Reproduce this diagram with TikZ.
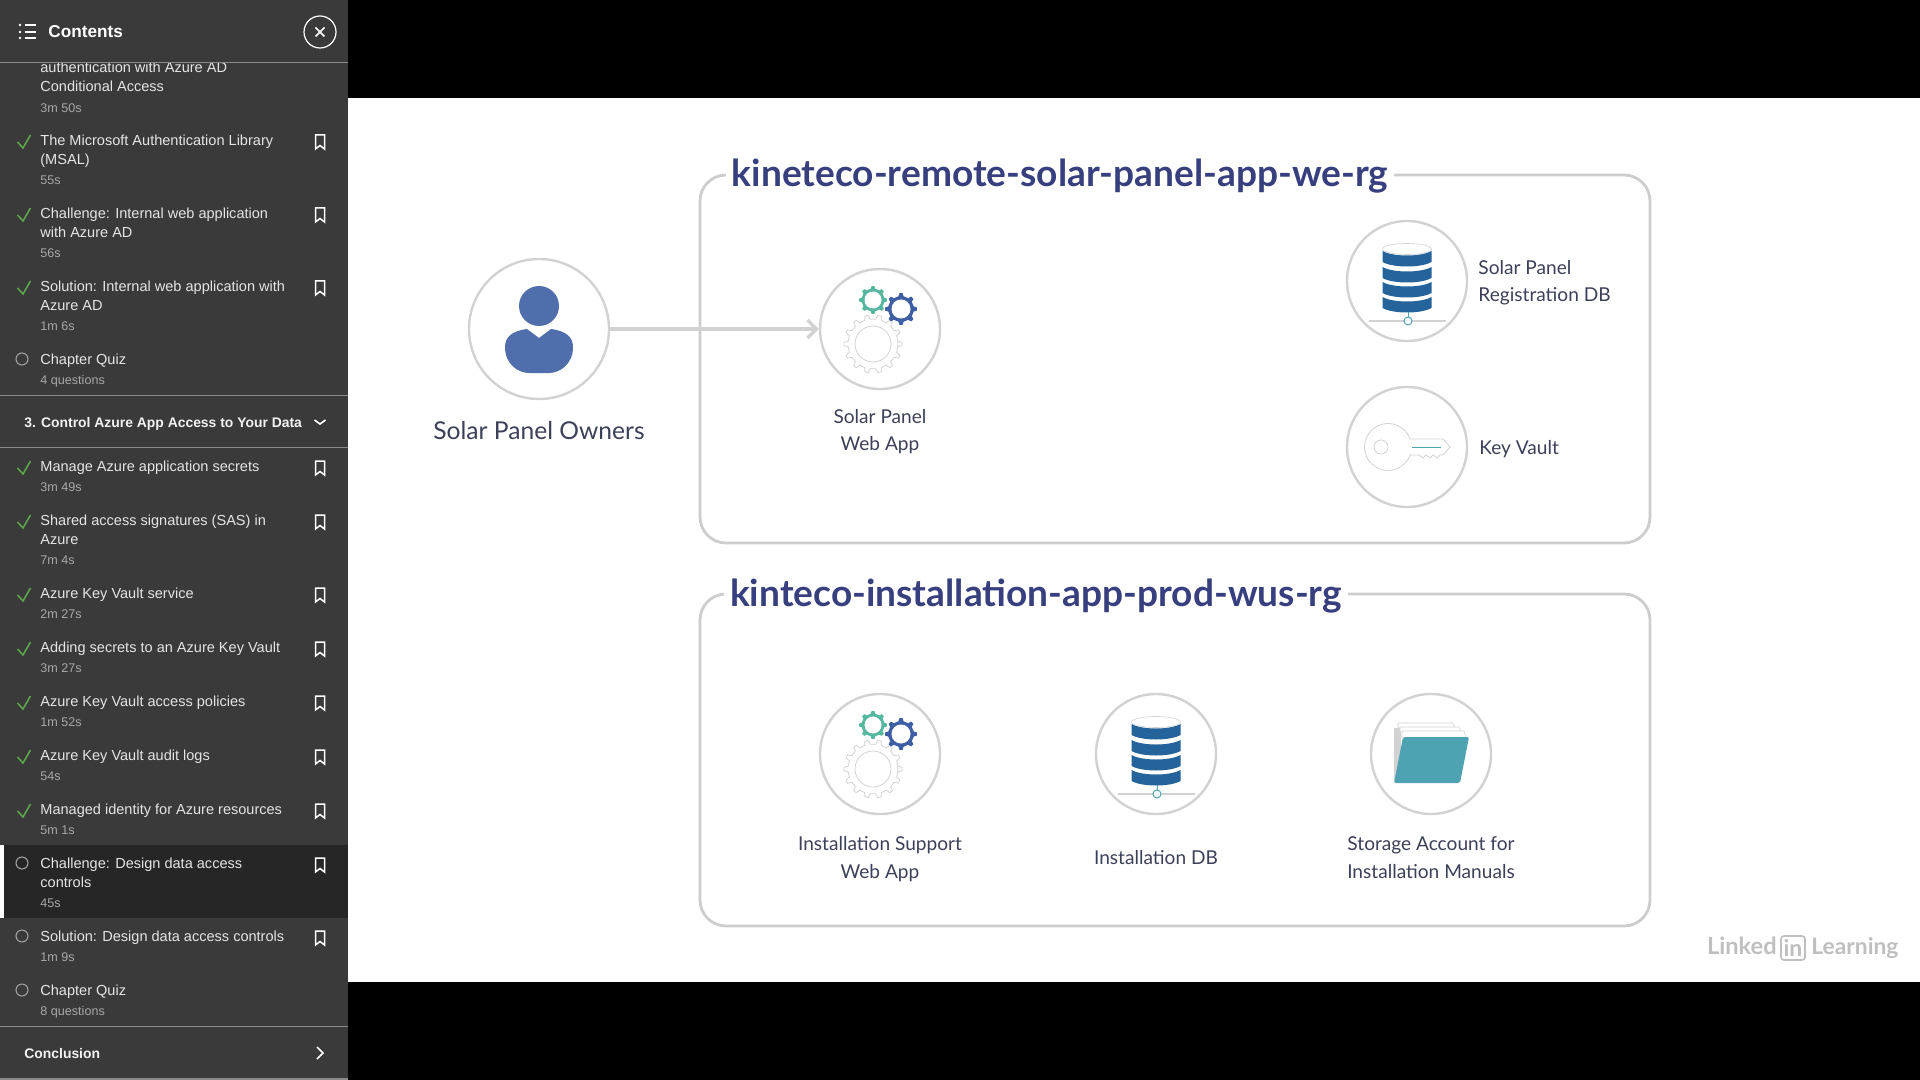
\documentclass[tikz,border=0pt]{standalone}
\usepackage{fontspec}
\setmainfont{Lato}
\newfontfamily\uifont{Liberation Sans}
\usetikzlibrary{arrows.meta}
\definecolor{sidebar}{HTML}{3A3A3A}
\definecolor{sideactive}{HTML}{262626}
\definecolor{sideline}{HTML}{8A8A8A}
\definecolor{ringgray}{HTML}{D2D2D2}
\definecolor{boxgray}{HTML}{CDCDCD}
\definecolor{titleblue}{HTML}{373F7E}
\definecolor{labelink}{HTML}{3C4058}
\definecolor{personblue}{HTML}{4F6EAB}
\definecolor{gearteal}{HTML}{55B79E}
\definecolor{gearblue}{HTML}{3F5FA5}
\definecolor{dbblue}{HTML}{24649B}
\definecolor{folderteal}{HTML}{4EA3B3}
\definecolor{checkgreen}{HTML}{5DAA4C}
\newcommand\uifs[1]{\uifont\fontsize{#1}{#1}\selectfont}
\newcommand\lafs[1]{\fontsize{#1}{#1}\selectfont}
\tikzset{
  tit/.style={anchor=base west,inner sep=0pt,text=white!90!black,font=\uifs{7.27}},
  dura/.style={anchor=base west,inner sep=0pt,text=white!66!black,font=\uifs{6.3}},
  sect/.style={anchor=base west,inner sep=0pt,text=white!95!black,font=\uifs{6.95}\bfseries},
  ring/.style={circle,draw=ringgray,line width=1.2pt,fill=white,minimum size=60pt,inner sep=0pt},
  lab/.style={text=labelink,inner sep=0pt,font=\lafs{9.55}},
  grp/.style={draw=boxgray,line width=1.4pt,rounded corners=13pt},
  grptitle/.style={fill=white,inner xsep=3pt,inner ysep=1pt,text=titleblue,font=\lafs{18.55}\bfseries},
  siderule/.style={draw=sideline,line width=0.5pt},
  chk/.style={draw=checkgreen,line width=0.75pt},
  bmk/.style={draw=white,line width=0.75pt,line join=miter},
  radio/.style={circle,draw=white!65!black,line width=0.5pt,minimum size=6pt,inner sep=0pt},
  wire/.style={draw=ringgray,line width=1.7pt,-{Straight Barb[length=4.5pt,width=9pt,line width=1.7pt]}},
}
\newcommand\tline[3]{\node[tit] (#1) at (40,#2+5.3) {#3};}
\newcommand\dline[3]{\node[dura] (#1) at (40,#2+5.2) {#3};}
\newcommand\chkmark[1]{\draw[chk] (17.5,#1+2) -- (23,#1+8) -- (30.5,#1-5);}
\newcommand\bkmark[1]{\draw[bmk] (315.5,#1-5) -- (324.5,#1-5) -- (324.5,#1+9) -- (320,#1+5.5) -- (315.5,#1+9) -- cycle;}
\newcommand\radiomark[2]{\node[radio] (#1) at (22,#2) {};}
% cx cy R r n style
\newcommand\gearshape[6]{%
  \pgfmathsetmacro\gstep{360/#5}
  \begin{scope}[shift={(#1,#2)}]
  \path[#6] ({-0.25*\gstep}:#4) foreach \i in {0,...,#5} {
     -- ({(\i-0.25)*\gstep}:#4) -- ({(\i-0.13)*\gstep}:#3) -- ({(\i+0.13)*\gstep}:#3) -- ({(\i+0.25)*\gstep}:#4) } -- cycle;
  \end{scope}}
\newcommand\gearsicon[2]{%
  \begin{scope}[shift={(#1,#2)}]
  \gearshape{-7}{15}{29}{25}{14}{draw=ringgray,line width=0.4pt,fill=white}
  \draw[ringgray,line width=0.4pt] (-7,15) circle[radius=18];
  \gearshape{-7}{-29}{14}{11.5}{8}{fill=gearteal}
  \fill[white] (-7,-29) circle[radius=8.5];
  \gearshape{21}{-20}{16}{13}{8}{fill=gearblue}
  \fill[white] (21,-20) circle[radius=9.5];
  \end{scope}}
\newcommand\dbband[1]{\fill[dbblue] (-24.5,#1) .. controls (-14,#1+6) and (14,#1+6) .. (24.5,#1) -- (24.5,#1+11) .. controls (14,#1+17) and (-14,#1+17) .. (-24.5,#1+11) -- cycle;}
\newcommand\dbicon[2]{%
  \begin{scope}[shift={(#1,#2)}]
  \dbband{-30}\dbband{-14}\dbband{1}\dbband{16}
  \draw[draw=ringgray,line width=0.3pt,fill=white] (0,-32) ellipse[x radius=24.5,y radius=5.5];
  \draw[ringgray,line width=1.4pt] (-38,40) -- (39,40);
  \draw[folderteal,line width=0.5pt] (1,31) -- (1,36);
  \draw[folderteal,line width=0.5pt,fill=white] (1,40) circle[radius=4];
  \end{scope}}
\begin{document}
\begin{tikzpicture}[x=0.5pt,y=-0.5pt]
\useasboundingbox (0,0) rectangle (1920,1080);
\fill[black] (0,0) rectangle (1920,1080);
\fill[white] (348,98) rectangle (1920,982);
% ---------- diagram
\draw[grp] (700,175) rectangle (1650,543);
\draw[grp] (700,594) rectangle (1650,926);
\node[grptitle] (title1) at (1060,176.5) {kineteco-remote-solar-panel-app-we-rg};
\node[grptitle] (title2) at (1036,596) {kinteco-installation-app-prod-wus-rg};
\node[ring,minimum size=70pt] (owner) at (539,329) {};
\node[ring] (webapp) at (880,329) {};
\node[ring] (regdb) at (1407,281) {};
\node[ring] (vault) at (1407,447) {};
\node[ring] (supapp) at (880,754) {};
\node[ring] (instdb) at (1156,754) {};
\node[ring] (storage) at (1431,754) {};
\draw[wire] (owner) -- (webapp);
% person
\begin{scope}[shift={(539,329)}]
  \fill[personblue] (0,-23) circle[radius=20];
  \fill[personblue] (-12,0) -- (0,9) -- (12,0) .. controls (27,2) and (34,8) .. (34,18) .. controls (34,36) and (20,44) .. (10,44) -- (-10,44) .. controls (-20,44) and (-34,36) .. (-34,18) .. controls (-34,8) and (-27,2) .. (-12,0) -- cycle;
\end{scope}
\gearsicon{880}{329}
\gearsicon{880}{754}
\dbicon{1407}{281}
\dbicon{1156}{754}
% key
\begin{scope}[shift={(1407,447)}]
  \draw[ringgray,line width=0.4pt] (-19,0) circle[radius=23.5];
  \draw[ringgray,line width=0.4pt] (-26,0) circle[radius=7];
  \fill[white] (0,-8) rectangle (36,8);
  \draw[ringgray,line width=0.4pt] (2,-8) -- (36,-8) -- (43,0) -- (36,8) -- (33,8) -- (30,11) -- (26,8) -- (23,11) -- (19,8) -- (16,11) -- (12,8) -- (2,8);
  \draw[folderteal,line width=0.4pt] (5,0) -- (34,0);
\end{scope}
% folder
\begin{scope}[shift={(1431,754)}]
  \fill[ringgray] (-37,-26) rectangle (-30,28);
  \draw[draw=ringgray,line width=0.3pt,fill=white] (-33,-31) -- (22,-31) -- (24,-26) -- (-33,-26) -- cycle;
  \draw[draw=ringgray,line width=0.3pt,fill=white] (-31,-27) -- (28,-27) -- (30,-22) -- (-31,-22) -- cycle;
  \draw[draw=ringgray,line width=0.3pt,fill=white] (-29,-23) -- (33,-23) -- (35,-16) -- (-29,-16) -- cycle;
  \fill[folderteal,rounded corners=1pt] (-28,-17) -- (38,-17) -- (29,29) -- (-37,29) -- cycle;
\end{scope}
% labels
\node[text=labelink,inner sep=0pt,font=\lafs{12.3}] (ownerlab) at (539,431) {Solar Panel Owners};
\node[lab] (w1) at (880,416.5) {Solar Panel};
\node[lab] (w2) at (880,445) {Web App};
\node[lab,anchor=west] (r1) at (1478,267.5) {Solar Panel};
\node[lab,anchor=west] (r2) at (1478,296.5) {Registration DB};
\node[lab,anchor=west] (kv) at (1479,449) {Key Vault};
\node[lab] (s1) at (880,845.5) {Installation Support};
\node[lab] (s2) at (880,873.5) {Web App};
\node[lab] (idb) at (1156,857.5) {Installation DB};
\node[lab] (m1) at (1431,845.5) {Storage Account for};
\node[lab] (m2) at (1431,871.5) {Installation Manuals};
% watermark
\node[anchor=base east,inner sep=0pt,text=black!25,font=\lafs{11.8}\bfseries] (wm1) at (1777,954) {Linked};
\node[draw=black!25,line width=0.8pt,rounded corners=1.5pt,inner sep=0pt,minimum width=12pt,minimum height=12pt,text=black!25,font=\lafs{11.5}\bfseries] (wm2) at (1793,948) {in};
\node[anchor=base west,inner sep=0pt,text=black!25,font=\lafs{11.4}\bfseries] (wm3) at (1811,954) {Learning};
% ---------- sidebar
\fill[sidebar] (0,0) rectangle (348,1080);
\fill[sideline] (0,1078) rectangle (348,1080);
\fill[sideactive] (0,845) rectangle (348,918);
\fill[white] (0,845) rectangle (4,918);
\tline{a1}{67}{authentication with Azure AD}
\fill[sidebar] (0,0) rectangle (348,63);
\draw[siderule] (0,63) -- (348,63);
\node[anchor=base west,inner sep=0pt,text=white,font=\uifs{8.6}\bfseries] (head) at (48,38) {Contents};
\foreach \yy in {25,32,38} {
  \fill[white] (20,\yy) circle[radius=1.4];
  \draw[white,line width=0.75pt] (25,\yy) -- (36,\yy);
}
\node[circle,draw=white,line width=0.6pt,minimum size=16pt,inner sep=0pt] (closebtn) at (320,32) {};
\draw[white,line width=0.8pt] (315.5,27.5) -- (324.5,36.5) (324.5,27.5) -- (315.5,36.5);
\tline{a2}{86}{Conditional Access}
\dline{a3}{107}{3m 50s}
\tline{b1}{140}{The Microsoft Authentication Library}
\tline{b2}{159}{(MSAL)}
\dline{b3}{179}{55s}
\chkmark{140}\bkmark{140}
\tline{c1}{213}{Challenge: Internal web application}
\tline{c2}{232}{with Azure AD}
\dline{c3}{252}{56s}
\chkmark{213}\bkmark{213}
\tline{d1}{286}{Solution: Internal web application with}
\tline{d2}{305}{Azure AD}
\dline{d3}{325}{1m 6s}
\chkmark{286}\bkmark{286}
\radiomark{e0}{359}
\tline{e1}{359}{Chapter Quiz}
\dline{e2}{379}{4 questions}
\draw[siderule] (0,395.5) -- (348,395.5);
\node[sect] (sec3) at (24,427) {3. Control Azure App Access to Your Data};
\draw[white,line width=0.8pt] (314.5,420) -- (320,424) -- (325.5,420);
\draw[siderule] (0,447.5) -- (348,447.5);
\tline{f1}{466}{Manage Azure application secrets}
\dline{f2}{486}{3m 49s}
\chkmark{466}\bkmark{466}
\tline{g1}{520}{Shared access signatures (SAS) in}
\tline{g2}{539}{Azure}
\dline{g3}{559}{7m 4s}
\chkmark{520}\bkmark{520}
\tline{h1}{593}{Azure Key Vault service}
\dline{h2}{613}{2m 27s}
\chkmark{593}\bkmark{593}
\tline{i1}{647}{Adding secrets to an Azure Key Vault}
\dline{i2}{667}{3m 27s}
\chkmark{647}\bkmark{647}
\tline{j1}{701}{Azure Key Vault access policies}
\dline{j2}{721}{1m 52s}
\chkmark{701}\bkmark{701}
\tline{k1}{755}{Azure Key Vault audit logs}
\dline{k2}{775}{54s}
\chkmark{755}\bkmark{755}
\tline{l1}{809}{Managed identity for Azure resources}
\dline{l2}{829}{5m 1s}
\chkmark{809}\bkmark{809}
\radiomark{m0}{863}
\tline{m1x}{863}{Challenge: Design data access}
\tline{m2x}{882}{controls}
\dline{m3x}{902}{45s}
\bkmark{863}
\radiomark{n0}{936}
\tline{n1}{936}{Solution: Design data access controls}
\dline{n2}{956}{1m 9s}
\bkmark{936}
\radiomark{o0}{990}
\tline{o1}{990}{Chapter Quiz}
\dline{o2}{1010}{8 questions}
\draw[siderule] (0,1026.5) -- (348,1026.5);
\node[sect] (concl) at (24,1058) {Conclusion};
\draw[white,line width=0.8pt] (317,1047) -- (323,1053) -- (317,1059);
\end{tikzpicture}
\end{document}
